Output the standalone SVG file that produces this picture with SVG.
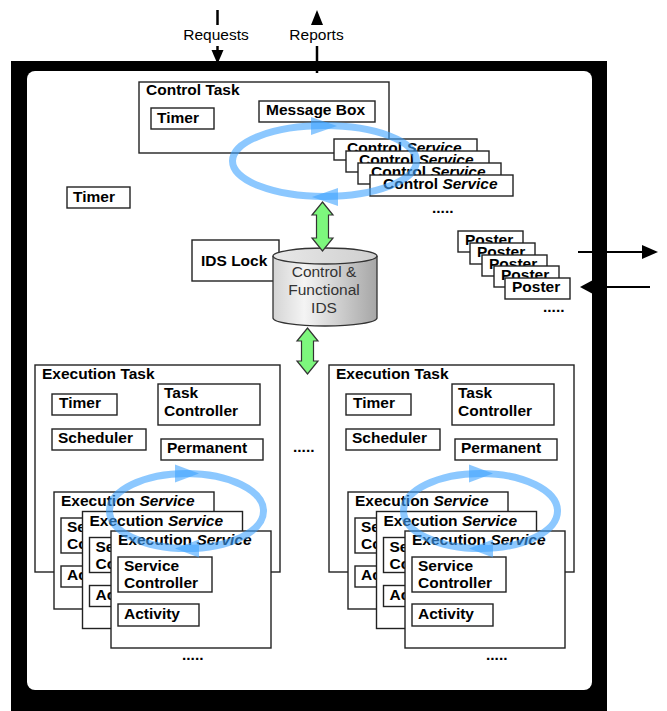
<svg xmlns="http://www.w3.org/2000/svg" width="667" height="711" viewBox="0 0 667 711">
<defs>
<style>
.box{fill:#fff;stroke:#222;stroke-width:1.4}
.t{font-family:"Liberation Sans",Arial,Helvetica,sans-serif;font-size:15.5px;font-weight:bold;fill:#000}
.n{font-family:"Liberation Sans",Arial,Helvetica,sans-serif;font-size:15.5px;font-weight:normal}
.it{font-style:italic}
.loop{fill:none;stroke:#3fa3ff;stroke-opacity:0.6;stroke-width:7}
.loophead{fill:#3fa3ff;fill-opacity:0.6}
.green{fill:#7df77d;stroke:#333;stroke-width:1.2}
.line{stroke:#000;stroke-width:2.5;fill:none}
</style>
<linearGradient id="cyl" x1="0" y1="0" x2="1" y2="0">
<stop offset="0" stop-color="#d4d4d4"/>
<stop offset="0.3" stop-color="#f4f4f4"/>
<stop offset="1" stop-color="#a6a6a6"/>
</linearGradient>
<linearGradient id="cyltop" x1="0" y1="0" x2="1" y2="0">
<stop offset="0" stop-color="#e8e8e8"/>
<stop offset="1" stop-color="#cfcfcf"/>
</linearGradient>
</defs>

<!-- outer frame -->
<g id="frame">
<rect x="11" y="61" width="596" height="660" fill="#000"/>
<rect x="27" y="71" width="565" height="619" rx="8" fill="#fff"/>
</g>

<g id="connectors">
<!-- Requests -->
<line class="line" x1="217.5" y1="10" x2="217.5" y2="25"/>
<line class="line" x1="217.5" y1="46" x2="217.5" y2="52"/>
<polygon points="211.5,50 223.5,50 217.5,64" fill="#000"/>
<!-- Reports -->
<polygon points="317,10 311,25 323,25" fill="#000"/>
<line class="line" x1="317" y1="46" x2="317" y2="73"/>
<!-- right arrows -->
<line stroke="#000" stroke-width="2.2" x1="578" y1="252" x2="644" y2="252"/>
<polygon points="642,245 658,252 642,259" fill="#000"/>
<line stroke="#000" stroke-width="2.2" x1="650" y1="287" x2="590" y2="287"/>
<polygon points="593,280 580,287 593,294" fill="#000"/>
</g>
<text class="n" x="216" y="40" text-anchor="middle">Requests</text>
<text class="n" x="316.5" y="40" text-anchor="middle">Reports</text>

<!-- Control Task -->
<g id="control-task">
<rect class="box" x="139" y="82" width="250" height="71"/>
<text class="t" x="146" y="95">Control Task</text>
</g>
<g id="ct-timer">
<rect class="box" x="151" y="108" width="63" height="21"/>
<text class="t" x="157" y="123">Timer</text>
</g>
<g id="message-box">
<rect class="box" x="259" y="101" width="116" height="21"/>
<text class="t" x="266" y="115">Message Box</text>
</g>
<g id="control-services">
<rect class="box" x="334" y="139" width="143" height="21"/>
<text class="t" x="347" y="152.5">Control <tspan class="it">Service</tspan></text>
<rect class="box" x="346" y="151" width="143" height="21"/>
<text class="t" x="359" y="164.5">Control <tspan class="it">Service</tspan></text>
<rect class="box" x="358" y="163" width="143" height="21"/>
<text class="t" x="371" y="176.5">Control <tspan class="it">Service</tspan></text>
<rect class="box" x="370" y="175" width="143" height="21"/>
<text class="t" x="383" y="188.5">Control <tspan class="it">Service</tspan></text>
<text class="t" x="432" y="213">.....</text>
</g>
<g id="control-loop">
<ellipse class="loop" cx="324.5" cy="161" rx="92" ry="35.5"/>
<polygon class="loophead" points="311,117 337,126 311,135"/>
<polygon class="loophead" points="338,188 312,197 338,206"/>
</g>

<g id="timer">
<rect class="box" x="67" y="187" width="63" height="21"/>
<text class="t" x="73" y="202">Timer</text>
</g>

<g id="ids-lock">
<rect class="box" x="192" y="240" width="87" height="41"/>
<text class="t" x="201" y="266">IDS Lock</text>
</g>

<g id="ids">
<path d="M273,256 L273,318 A52,8 0 0 0 377,318 L377,256" fill="url(#cyl)" stroke="#333" stroke-width="1.3"/>
<ellipse cx="325" cy="256" rx="52" ry="8" fill="url(#cyltop)" stroke="#333" stroke-width="1.3"/>
<text class="n" x="324" y="277" text-anchor="middle" fill="#333">Control &amp;</text>
<text class="n" x="324" y="295" text-anchor="middle" fill="#333">Functional</text>
<text class="n" x="324" y="313" text-anchor="middle" fill="#333">IDS</text>
</g>

<g id="green-arrows">
<polygon class="green" points="322.5,202 333,215 328.5,215 328.5,238 333,238 322.5,251 312,238 316.5,238 316.5,215 312,215"/>
<polygon class="green" points="307.5,328 318,341 313.5,341 313.5,361 318,361 307.5,374 297,361 301.5,361 301.5,341 297,341"/>
</g>

<g id="posters">
<rect class="box" x="458" y="231" width="65" height="21"/>
<text class="t" x="465" y="245">Poster</text>
<rect class="box" x="470" y="243" width="65" height="21"/>
<text class="t" x="477" y="257">Poster</text>
<rect class="box" x="482" y="255" width="65" height="21"/>
<text class="t" x="489" y="269">Poster</text>
<rect class="box" x="494" y="266" width="65" height="21"/>
<text class="t" x="501" y="280">Poster</text>
<rect class="box" x="505" y="278" width="65" height="21"/>
<text class="t" x="512" y="292">Poster</text>
<text class="t" x="543" y="312">.....</text>
</g>

<!-- Execution Task left -->
<g id="exec-task-1">
<rect class="box" x="35" y="365" width="245" height="207"/>
<text class="t" x="42" y="379">Execution Task</text>
<rect class="box" x="52" y="394" width="65" height="21"/>
<text class="t" x="59" y="408">Timer</text>
<rect class="box" x="158" y="384" width="102" height="41"/>
<text class="t" x="164" y="398">Task</text>
<text class="t" x="164" y="416">Controller</text>
<rect class="box" x="52" y="429" width="94" height="21"/>
<text class="t" x="58" y="443">Scheduler</text>
<rect class="box" x="161" y="439" width="102" height="21"/>
<text class="t" x="167" y="453">Permanent</text>
</g>
<g id="exec-services-1">
<rect class="box" x="54" y="492" width="160" height="117"/>
<text class="t" x="61" y="506">Execution <tspan class="it">Service</tspan></text>
<rect class="box" x="61" y="518" width="94" height="35"/>
<text class="t" x="67" y="532">Service</text>
<text class="t" x="67" y="549">Controller</text>
<rect class="box" x="61" y="566" width="81" height="21"/>
<text class="t" x="67" y="580">Activity</text>

<rect class="box" x="82.5" y="511.5" width="160" height="117"/>
<text class="t" x="89.5" y="525.5">Execution <tspan class="it">Service</tspan></text>
<rect class="box" x="89.5" y="537.5" width="94" height="35"/>
<text class="t" x="95.5" y="551.5">Service</text>
<text class="t" x="95.5" y="568.5">Controller</text>
<rect class="box" x="89.5" y="585.5" width="81" height="21"/>
<text class="t" x="95.5" y="599.5">Activity</text>

<rect class="box" x="111" y="531" width="160" height="117"/>
<text class="t" x="118" y="545">Execution <tspan class="it">Service</tspan></text>
<rect class="box" x="118" y="557" width="94" height="35"/>
<text class="t" x="124" y="571">Service</text>
<text class="t" x="124" y="588">Controller</text>
<rect class="box" x="118" y="604" width="81" height="22"/>
<text class="t" x="124" y="619">Activity</text>
<text class="t" x="182" y="660">.....</text>
</g>
<g id="exec-loop-1">
<ellipse class="loop" cx="186.5" cy="511" rx="77" ry="37.5"/>
<polygon class="loophead" points="175,464.5 199,473.5 175,482.5"/>
<polygon class="loophead" points="199,539.5 175,548.5 199,557.5"/>
</g>

<text class="t" x="293" y="452">.....</text>

<!-- Execution Task right -->
<g id="exec-task-2" transform="translate(294,0)">
<rect class="box" x="35" y="365" width="245" height="207"/>
<text class="t" x="42" y="379">Execution Task</text>
<rect class="box" x="52" y="394" width="65" height="21"/>
<text class="t" x="59" y="408">Timer</text>
<rect class="box" x="158" y="384" width="102" height="41"/>
<text class="t" x="164" y="398">Task</text>
<text class="t" x="164" y="416">Controller</text>
<rect class="box" x="52" y="429" width="94" height="21"/>
<text class="t" x="58" y="443">Scheduler</text>
<rect class="box" x="161" y="439" width="102" height="21"/>
<text class="t" x="167" y="453">Permanent</text>
</g>
<g id="exec-services-2" transform="translate(294,0)">
<rect class="box" x="54" y="492" width="160" height="117"/>
<text class="t" x="61" y="506">Execution <tspan class="it">Service</tspan></text>
<rect class="box" x="61" y="518" width="94" height="35"/>
<text class="t" x="67" y="532">Service</text>
<text class="t" x="67" y="549">Controller</text>
<rect class="box" x="61" y="566" width="81" height="21"/>
<text class="t" x="67" y="580">Activity</text>

<rect class="box" x="82.5" y="511.5" width="160" height="117"/>
<text class="t" x="89.5" y="525.5">Execution <tspan class="it">Service</tspan></text>
<rect class="box" x="89.5" y="537.5" width="94" height="35"/>
<text class="t" x="95.5" y="551.5">Service</text>
<text class="t" x="95.5" y="568.5">Controller</text>
<rect class="box" x="89.5" y="585.5" width="81" height="21"/>
<text class="t" x="95.5" y="599.5">Activity</text>

<rect class="box" x="111" y="531" width="160" height="117"/>
<text class="t" x="118" y="545">Execution <tspan class="it">Service</tspan></text>
<rect class="box" x="118" y="557" width="94" height="35"/>
<text class="t" x="124" y="571">Service</text>
<text class="t" x="124" y="588">Controller</text>
<rect class="box" x="118" y="604" width="81" height="22"/>
<text class="t" x="124" y="619">Activity</text>
<text class="t" x="192" y="660">.....</text>
</g>
<g id="exec-loop-2" transform="translate(294,0)">
<ellipse class="loop" cx="186.5" cy="511" rx="77" ry="37.5"/>
<polygon class="loophead" points="175,464.5 199,473.5 175,482.5"/>
<polygon class="loophead" points="199,539.5 175,548.5 199,557.5"/>
</g>
</svg>
